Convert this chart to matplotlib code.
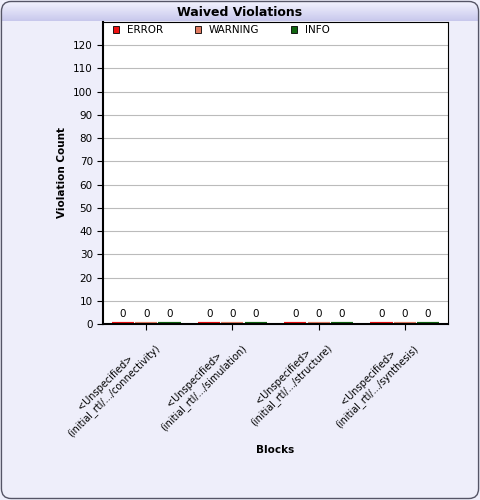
import numpy as np
import matplotlib.pyplot as plt
from matplotlib.patches import FancyBboxPatch

# Datos
blocks = ["<Unspecified>\n(initial_rtl/.../connectivity)",
          "<Unspecified>\n(initial_rtl/.../simulation)",
          "<Unspecified>\n(initial_rtl/.../structure)",
          "<Unspecified>\n(initial_rtl/.../synthesis)"]
series = ["ERROR", "WARNING", "INFO"]
error_vals = [0, 0, 0, 0]
warning_vals = [0, 0, 0, 0]
info_vals = [0, 0, 0, 0]
colors = ["#ee1111", "#e07a60", "#116611"]

fig = plt.figure(figsize=(4.8, 5), dpi=100)
fig.patch.set_facecolor("#eeeefa")

# Borde redondeado
fig.patches.append(FancyBboxPatch((0.003, 0.003), 0.994, 0.994,
                                  boxstyle="round,pad=0,rounding_size=0.02",
                                  transform=fig.transFigure, fill=False,
                                  edgecolor="#555566", linewidth=1))

# Barra de titulo
tb = fig.add_axes([0.005, 0.958, 0.99, 0.04])
grad = np.linspace(1, 0, 50).reshape(-1, 1)
tb.imshow(grad, aspect="auto", cmap=plt.matplotlib.colors.LinearSegmentedColormap.from_list(
    "t", ["#c8c8ec", "#f4f4ff"]), extent=[0, 1, 0, 1])
tb.set_axis_off()
tb.text(0.5, 0.45, "Waived Violations", ha="center", va="center",
        fontsize=9, fontweight="bold")

ax = fig.add_axes([0.215, 0.352, 0.718, 0.604])
x = np.arange(len(blocks))
w = 0.27
for i, (vals, c) in enumerate(zip([error_vals, warning_vals, info_vals], colors)):
    pos = x + (i - 1) * w
    ax.bar(pos, vals, width=w * 0.95, color=c, edgecolor=c, linewidth=3, label=series[i])
    for p, v in zip(pos, vals):
        ax.text(p, v + 2, str(v), ha="center", va="bottom", fontsize=7.5)

ax.set_ylim(0, 130)
ax.set_xlim(-0.5, len(blocks) - 0.5)
ax.set_yticks(np.arange(0, 121, 10))
ax.tick_params(axis="y", labelsize=7.5, length=4)
ax.tick_params(axis="x", labelsize=7, length=4)
ax.yaxis.grid(True, color="#bbbbbb", linewidth=0.8)
ax.set_axisbelow(True)
ax.set_xticks(x)
ax.set_xticklabels(blocks, rotation=45, ha="right", rotation_mode="anchor",
                   multialignment="center")
ax.set_ylabel("Violation Count", fontsize=7.5, fontweight="bold")
ax.set_xlabel("Blocks", fontsize=7.5, fontweight="bold", labelpad=4)
ax.spines["left"].set_linewidth(1.5)
ax.spines["bottom"].set_linewidth(1.5)
leg = ax.legend(loc="upper left", ncol=3, frameon=False, fontsize=7.5,
                handlelength=0.6, handleheight=0.6, columnspacing=3,
                bbox_to_anchor=(0.0, 1.02))
for h in leg.legend_handles:
    h.set_edgecolor("black")
    h.set_linewidth(0.6)

plt.savefig("out.png", dpi=100, facecolor=fig.get_facecolor())
